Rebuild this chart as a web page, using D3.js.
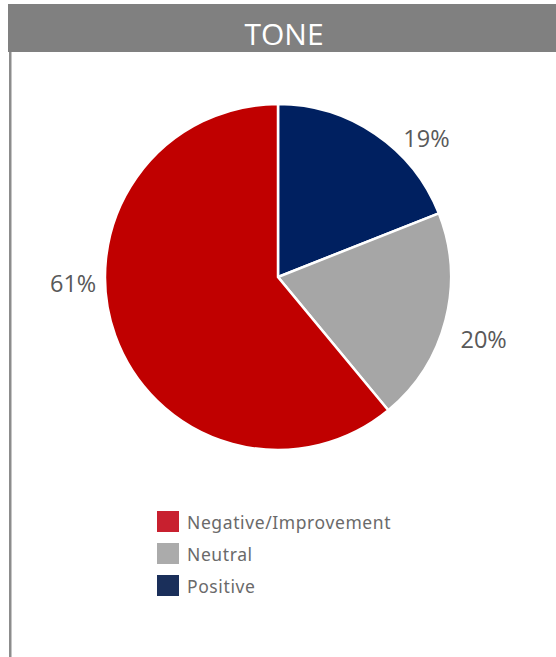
<!DOCTYPE html>
<html>
<head>
<meta charset="utf-8">
<script src="https://cdn.jsdelivr.net/npm/d3@7"></script>
<style>
  html, body { margin: 0; padding: 0; background: #fff; }
  svg { display: block; }
</style>
</head>
<body>
<svg id="chart" width="556" height="657"></svg>
<script>
// Tone breakdown, drawn clockwise from 12 o'clock
const categories = ["Positive", "Neutral", "Negative/Improvement"];
const shares = [19, 20, 61];
const sliceColors = ["#002060", "#A6A6A6", "#C00000"];

// Legend order and swatch colours
const legendLabels = ["Negative/Improvement", "Neutral", "Positive"];
const legendColors = ["#C8202F", "#ABABAB", "#1A2F5A"];

const svg = d3.select("#chart");
const W = 556, H = 657;

// Panel frame: grey title bar and left rule
svg.append("rect").attr("x", 8).attr("y", 4).attr("width", W - 8).attr("height", 48)
  .attr("fill", "#808080");
svg.append("rect").attr("x", 9).attr("y", 52).attr("width", 2.5).attr("height", H - 52)
  .attr("fill", "#8c8c8c");
svg.append("text").attr("x", 284).attr("y", 45).attr("text-anchor", "middle")
  .attr("fill", "#fff").attr("font-family", "'Open Sans', sans-serif")
  .attr("font-size", 30).text("TONE");

// Pie
const cx = 278, cy = 277, r = 173;
const color = d3.scaleOrdinal().domain(categories).range(sliceColors);
const pie = d3.pie().sort(null).value(d => d.v);
const arcs = pie(categories.map((c, i) => ({ c, v: shares[i] })));
const arc = d3.arc().innerRadius(0).outerRadius(r);
const g = svg.append("g").attr("transform", `translate(${cx},${cy})`);
g.selectAll("path").data(arcs).join("path")
  .attr("d", arc)
  .attr("fill", d => color(d.data.c))
  .attr("stroke", "#fff").attr("stroke-width", 2.5);

// Percentage labels outside the slices: each label sits beyond the rim,
// turned a little clockwise from the slice's mid-angle (best-fit placement).
const labelPlacement = [
  { turn: 12.8, dist: 203 },
  { turn: 2.6, dist: 215 },
  { turn: 18.0, dist: 205 }
];
g.selectAll("text.pct").data(arcs).join("text")
  .attr("class", "pct")
  .attr("transform", (d, i) => {
    const p = labelPlacement[i];
    const a = (d.startAngle + d.endAngle) / 2 + p.turn * Math.PI / 180;
    return `translate(${p.dist * Math.sin(a)},${-p.dist * Math.cos(a)})`;
  })
  .attr("dy", "0.36em")
  .attr("text-anchor", "middle")
  .attr("fill", "#595959")
  .attr("font-family", "'Open Sans', sans-serif")
  .attr("font-size", 23.5)
  .text(d => d.data.v + "%");

// Legend
const legend = svg.append("g").attr("transform", "translate(157,511)");
const rows = legend.selectAll("g").data(legendLabels).join("g")
  .attr("transform", (d, i) => `translate(0,${i * 32})`);
rows.append("rect").attr("width", 22).attr("height", 21)
  .attr("fill", (d, i) => legendColors[i]);
rows.append("text").attr("x", 30).attr("y", 18)
  .attr("fill", "#6a6a6a").attr("font-family", "'Noto Sans', sans-serif")
  .attr("font-size", 17.5).attr("letter-spacing", 0.6).text(d => d);
</script>
</body>
</html>
